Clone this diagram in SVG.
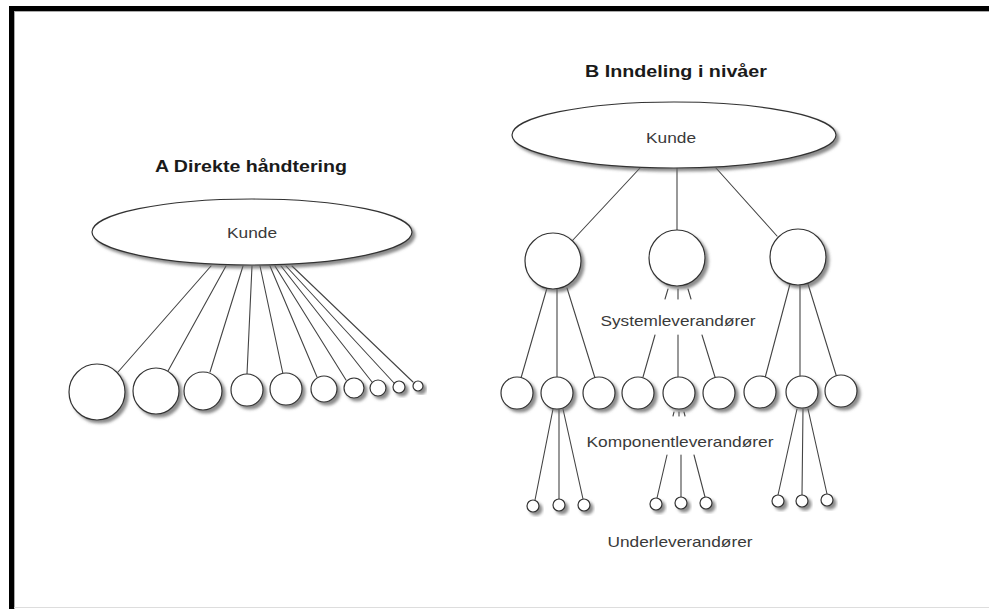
<svg xmlns="http://www.w3.org/2000/svg" width="989" height="609" viewBox="0 0 989 609">
<style>
.nd{fill:#fff;stroke:#333;stroke-width:1.2;filter:url(#sh)}
.cn line{stroke:#444;stroke-width:1.1;stroke-linecap:round}
.lbl{font-family:"Liberation Sans",Arial,sans-serif;fill:#3a3a3a;text-anchor:middle}
.ttl{font-family:"Liberation Sans",Arial,sans-serif;font-weight:bold;fill:#1a1a1a;text-anchor:middle}
</style>
<defs>
<filter id="sh" x="-30%" y="-30%" width="170%" height="170%">
<feDropShadow dx="3" dy="3" stdDeviation="1.5" flood-color="#666" flood-opacity="0.75"/>
</filter>
</defs>
<rect width="989" height="609" fill="#fff"/>
<g id="frame">
<rect x="9" y="6" width="980" height="5" fill="#000"/>
<rect x="9" y="6" width="5" height="603" fill="#000"/>
<line x1="14" y1="11.5" x2="989" y2="11.5" stroke="#aaa" stroke-width="1"/>
<line x1="14.5" y1="11" x2="14.5" y2="609" stroke="#aaa" stroke-width="1"/>
<line x1="14" y1="607.5" x2="989" y2="607.5" stroke="#ddd" stroke-width="1"/>
</g>
<text class="ttl" x="251" y="172" font-size="17" textLength="192" lengthAdjust="spacingAndGlyphs">A Direkte håndtering</text>
<text class="ttl" x="676" y="77" font-size="17" textLength="182" lengthAdjust="spacingAndGlyphs">B Inndeling i nivåer</text>
<g id="connectors" class="cn">
<line x1="211" y1="266" x2="118" y2="372"/>
<line x1="226" y1="266" x2="168" y2="371"/>
<line x1="243" y1="266" x2="210" y2="372"/>
<line x1="252" y1="266" x2="247" y2="374"/>
<line x1="260" y1="266" x2="283" y2="374"/>
<line x1="270" y1="266" x2="317" y2="377"/>
<line x1="275" y1="266" x2="346" y2="380"/>
<line x1="281" y1="266" x2="372" y2="382"/>
<line x1="286" y1="266" x2="394" y2="383"/>
<line x1="292" y1="266" x2="413" y2="382"/>
<line x1="640" y1="168" x2="572" y2="241"/>
<line x1="677" y1="168" x2="677" y2="230"/>
<line x1="716" y1="168" x2="777" y2="236"/>
<line x1="547" y1="288" x2="521" y2="378"/>
<line x1="557" y1="288" x2="557" y2="377"/>
<line x1="567" y1="288" x2="595" y2="378"/>
<line x1="668" y1="289" x2="665" y2="299"/>
<line x1="678" y1="289" x2="678" y2="299"/>
<line x1="688" y1="289" x2="691" y2="299"/>
<line x1="655" y1="335" x2="643" y2="377"/>
<line x1="678" y1="335" x2="678" y2="377"/>
<line x1="702" y1="335" x2="715" y2="377"/>
<line x1="790" y1="284" x2="765" y2="378"/>
<line x1="800" y1="284" x2="800" y2="376"/>
<line x1="808" y1="284" x2="837" y2="378"/>
<line x1="553" y1="409" x2="535" y2="500"/>
<line x1="559" y1="409" x2="559" y2="499"/>
<line x1="563" y1="409" x2="583" y2="499"/>
<line x1="674" y1="412" x2="673" y2="416"/>
<line x1="679" y1="412" x2="679" y2="416"/>
<line x1="684" y1="412" x2="685" y2="416"/>
<line x1="667" y1="455" x2="657" y2="498"/>
<line x1="681" y1="455" x2="681" y2="497"/>
<line x1="694" y1="455" x2="705" y2="497"/>
<line x1="797" y1="409" x2="778" y2="495"/>
<line x1="803" y1="409" x2="802" y2="495"/>
<line x1="808" y1="409" x2="827" y2="494"/>
</g>
<g id="kundeA"><ellipse class="nd" cx="252" cy="232" rx="160" ry="33"/><text class="lbl" x="252" y="238" font-size="14" textLength="50" lengthAdjust="spacingAndGlyphs">Kunde</text></g>
<g id="a1"><circle class="nd" cx="97" cy="392" r="28"/></g>
<g id="a2"><circle class="nd" cx="156" cy="391" r="23"/></g>
<g id="a3"><circle class="nd" cx="203" cy="391" r="19"/></g>
<g id="a4"><circle class="nd" cx="247" cy="390" r="16"/></g>
<g id="a5"><circle class="nd" cx="286" cy="389" r="16"/></g>
<g id="a6"><circle class="nd" cx="324" cy="389" r="13"/></g>
<g id="a7"><circle class="nd" cx="354" cy="388" r="10"/></g>
<g id="a8"><circle class="nd" cx="378" cy="388" r="8"/></g>
<g id="a9"><circle class="nd" cx="399" cy="387" r="6"/></g>
<g id="a10"><circle class="nd" cx="418" cy="386" r="5"/></g>
<g id="kundeB"><ellipse class="nd" cx="674" cy="135" rx="162" ry="33"/><text class="lbl" x="671" y="143" font-size="14" textLength="50" lengthAdjust="spacingAndGlyphs">Kunde</text></g>
<g id="s1"><circle class="nd" cx="553" cy="261" r="28"/></g>
<g id="s2"><circle class="nd" cx="677" cy="258" r="28"/></g>
<g id="s3"><circle class="nd" cx="798" cy="257" r="28"/></g>
<g id="k1"><circle class="nd" cx="517" cy="393" r="16"/></g>
<g id="k2"><circle class="nd" cx="557" cy="393" r="16"/></g>
<g id="k3"><circle class="nd" cx="599" cy="393" r="16"/></g>
<g id="k4"><circle class="nd" cx="638" cy="393" r="16"/></g>
<g id="k5"><circle class="nd" cx="679" cy="393" r="16"/></g>
<g id="k6"><circle class="nd" cx="719" cy="393" r="16"/></g>
<g id="k7"><circle class="nd" cx="760" cy="392" r="16"/></g>
<g id="k8"><circle class="nd" cx="802" cy="392" r="16"/></g>
<g id="k9"><circle class="nd" cx="841" cy="391" r="16"/></g>
<g id="u1"><circle class="nd" cx="533" cy="506" r="6"/></g>
<g id="u2"><circle class="nd" cx="559" cy="505" r="6"/></g>
<g id="u3"><circle class="nd" cx="584" cy="505" r="6"/></g>
<g id="u4"><circle class="nd" cx="656" cy="504" r="6"/></g>
<g id="u5"><circle class="nd" cx="681" cy="503" r="6"/></g>
<g id="u6"><circle class="nd" cx="706" cy="503" r="6"/></g>
<g id="u7"><circle class="nd" cx="778" cy="501" r="6"/></g>
<g id="u8"><circle class="nd" cx="802" cy="501" r="6"/></g>
<g id="u9"><circle class="nd" cx="827" cy="500" r="6"/></g>
<text class="lbl" x="678" y="326" font-size="15" textLength="155" lengthAdjust="spacingAndGlyphs">Systemleverandører</text>
<text class="lbl" x="680" y="447" font-size="15" textLength="187" lengthAdjust="spacingAndGlyphs">Komponentleverandører</text>
<text class="lbl" x="680" y="547" font-size="15" textLength="145" lengthAdjust="spacingAndGlyphs">Underleverandører</text>
</svg>
